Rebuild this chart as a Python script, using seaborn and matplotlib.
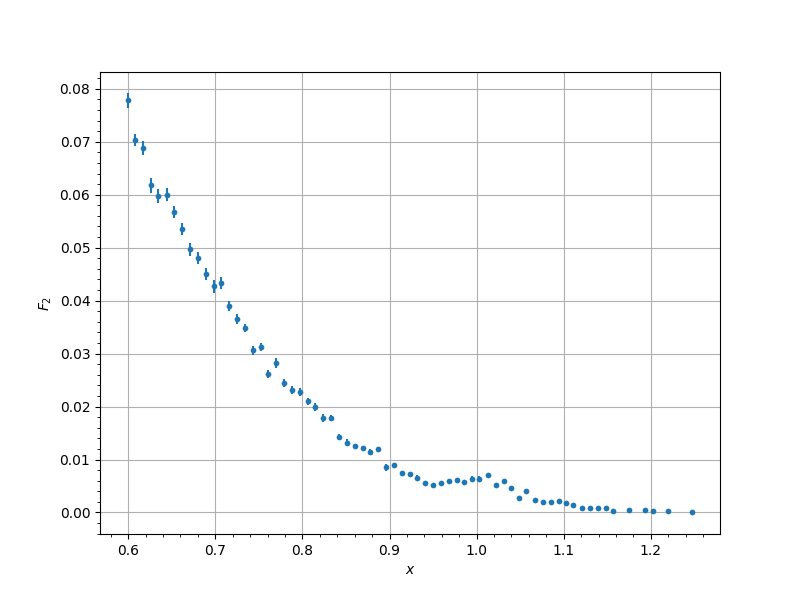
import numpy as np
import pandas as pd
import seaborn as sns
import matplotlib
matplotlib.use("Agg")
import matplotlib.pyplot as plt
from matplotlib.ticker import AutoMinorLocator

# structure function data
x_vals = [0.600, 0.608, 0.617, 0.626, 0.634, 0.644, 0.653, 0.662, 0.671, 0.680,
          0.689, 0.698, 0.707, 0.716, 0.725, 0.734, 0.743, 0.752, 0.761, 0.770,
          0.779, 0.788, 0.797, 0.806, 0.815, 0.824, 0.833, 0.842, 0.851, 0.860,
          0.869, 0.878, 0.887, 0.896, 0.905, 0.914, 0.923, 0.932, 0.941, 0.950,
          0.959, 0.968, 0.977, 0.986, 0.995, 1.003, 1.013, 1.022, 1.031, 1.040,
          1.049, 1.057, 1.067, 1.076, 1.085, 1.094, 1.103, 1.111, 1.121, 1.130,
          1.139, 1.148, 1.157, 1.175, 1.193, 1.202, 1.220, 1.247]
f2_vals = [0.0778, 0.0703, 0.0688, 0.0618, 0.0598, 0.0600, 0.0567, 0.0535, 0.0497, 0.0480,
           0.0450, 0.0427, 0.0433, 0.0390, 0.0365, 0.0348, 0.0306, 0.0312, 0.0261, 0.0282,
           0.0244, 0.0231, 0.0227, 0.0210, 0.0199, 0.0178, 0.0178, 0.0142, 0.0132, 0.0125,
           0.0121, 0.0115, 0.0119, 0.0085, 0.0089, 0.0074, 0.0072, 0.0066, 0.0055, 0.0051,
           0.0055, 0.0059, 0.0061, 0.0057, 0.0064, 0.0064, 0.0070, 0.0051, 0.0059, 0.0047,
           0.0028, 0.0040, 0.0023, 0.0019, 0.0019, 0.0021, 0.0017, 0.0015, 0.0008, 0.0009,
           0.0009, 0.0008, 0.0002, 0.0004, 0.0004, 0.0002, 0.0002, 0.0000]
f2_err = [0.0014, 0.0012, 0.0013, 0.0014, 0.0013, 0.0012, 0.0011, 0.0011, 0.0012, 0.0011,
          0.0011, 0.0012, 0.0012, 0.0010, 0.0010, 0.0008, 0.0008, 0.0008, 0.0008, 0.0009,
          0.0008, 0.0008, 0.0008, 0.0007, 0.0007, 0.0007, 0.0006, 0.0006, 0.0006, 0.0005,
          0.0005, 0.0004, 0.0005, 0.0006, 0.0005, 0.0004, 0.0004, 0.0004, 0.0003, 0.0003,
          0.0003, 0.0003, 0.0004, 0.0003, 0.0005, 0.0005, 0.0004, 0.0004, 0.0004, 0.0003,
          0.0003, 0.0003, 0.0002, 0.0002, 0.0002, 0.0002, 0.0002, 0.0002, 0.0002, 0.0002,
          0.0002, 0.0002, 0.0001, 0.0001, 0.0001, 0.0001, 0.0001, 0.0001]

df = pd.DataFrame({"x": x_vals, "F2": f2_vals, "err": f2_err})

fig, ax = plt.subplots(figsize=(8, 6), dpi=100)
ax.errorbar(df["x"], df["F2"], yerr=df["err"], fmt="none", ecolor="#1f77b4", elinewidth=1.5)
sns.scatterplot(data=df, x="x", y="F2", ax=ax, color="#1f77b4", s=17, linewidth=0, zorder=3)

ax.set_xlabel("$x$")
ax.set_ylabel("$F_2$")
ax.xaxis.set_minor_locator(AutoMinorLocator())
ax.yaxis.set_minor_locator(AutoMinorLocator())
ax.grid(True, which="major", color="#b0b0b0")

fig.savefig("out.png", dpi=100)
